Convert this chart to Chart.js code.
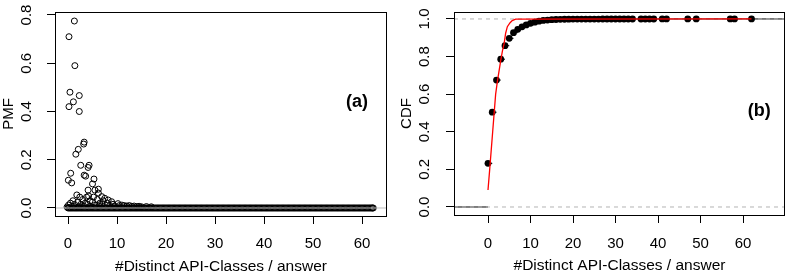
<!DOCTYPE html>
<html><head><meta charset="utf-8">
<script src="https://cdn.jsdelivr.net/npm/chart.js@4"></script>
<style>
html,body{margin:0;padding:0;background:#fff;}
#wrap{position:relative;width:793px;height:279px;overflow:hidden;}
#pa{position:absolute;left:0;top:0;}
#pb{position:absolute;left:395px;top:0;}
</style></head><body>
<div id="wrap"><canvas id="pa" width="395" height="279"></canvas><canvas id="pb" width="398" height="279"></canvas></div>
<script>
// ---------- data ----------
const xTicks = [0, 10, 20, 30, 40, 50, 60];
const pmfYTicks = [0.0, 0.2, 0.4, 0.6, 0.8];
const cdfYTicks = [0.0, 0.2, 0.4, 0.6, 0.8, 1.0];

// PMF points (jittered x, value)
const pmfX = [0.2,1.3,1.4,0.4,2.3,1.1,0.2,2.3,3.3,3.2,2.1,1.6,2.6,4.3,4.1,0.55,3.3,3.6,0.07,0.75,5.3,5.0,4.1,6.2,
  0.1,-0.2,0.5,1.0,1.3,0.8,1.8,2.4,2.0,2.6,2.2,3.0,3.5,3.8,3.2,4.2,4.5,4.0,4.7,5.5,5.2,5.0,5.6,6.2,6.0,6.5,6.3,
  6.9,7.2,7.0,7.5,8.2,8.0,8.5,8.9,9.2,9.5,10.2,10.5,11,11.5,12,12.5,13,13.5,14,14.5,15,16,17];
const pmfY = [0.71,0.775,0.59,0.48,0.466,0.44,0.42,0.40,0.273,0.265,0.243,0.223,0.177,0.177,0.168,0.144,0.136,0.132,0.115,0.104,0.12,0.10,0.074,0.078,
  0.012,0.004,0.02,0.03,0.015,0.006,0.054,0.045,0.025,0.015,0.006,0.035,0.02,0.045,0.008,0.05,0.03,0.015,0.006,0.074,0.045,0.025,0.012,0.062,0.035,0.02,0.008,
  0.047,0.03,0.015,0.04,0.033,0.02,0.01,0.026,0.015,0.008,0.018,0.01,0.012,0.01,0.008,0.01,0.007,0.008,0.006,0.007,0.005,0.006,0.005];
// PMF points that are (practically) zero, one row per jitter group
const pmfZeroX = [0,1,2,3,4,5,6,7,8,9,10,11,12,13,14,15,16,17,18,19,20,21,22,23,24,25,26,27,28,29,30,31,32,33,34,35,36,37,38,39,40,41,42,43,44,45,46,47,48,49,50,51,52,53,54,55,56,57,58,59,60,61,62];
const pmfZeroX2 = [0.5,1.5,2.5,3.5,4.5,5.5,6.5,7.5,8.5,9.5,10.5,11.5,12.5,13.5,14.5,15.5,16.5,17.5,18.5,19.5,20.5,21.5,22.5,23.5,24.5,25.5,26.5,27.5,28.5,29.5,30.5,31.5,32.5,33.5,34.5,35.5,36.5,37.5,38.5,39.5,40.5,41.5,42.5,43.5,44.5,45.5,46.5,47.5,48.5,49.5,50.5,51.5,52.5,53.5,54.5,55.5,56.5,57.5,58.5,59.5,60.5,61.5,62.3];
const pmfZeroX3 = [0.25,1.25,2.25,3.25,4.25,5.25,6.25,7.25,8.25,9.25,10.25,11.25,12.25,13.25,14.25,15.25,16.25,17.25,18.25,19.25,20.25,21.25,22.25,23.25,24.25,25.25,26.25,27.25,28.25,29.25,30.25,31.25,32.25,33.25,34.25,35.25,36.25,37.25,38.25,39.25,40.25,41.25,42.25,43.25,44.25,45.25,46.25,47.25,48.25,49.25,50.25,51.25,52.25,53.25,54.25,55.25,56.25,57.25,58.25,59.25,60.25,61.25,62.15];
const pmfZeroX4 = [0.75,1.75,2.75,3.75,4.75,5.75,6.75,7.75,8.75,9.75,10.75,11.75,12.75,13.75,14.75,15.75,16.75,17.75,18.75,19.75,20.75,21.75,22.75,23.75,24.75,25.75,26.75,27.75,28.75,29.75,30.75,31.75,32.75,33.75,34.75,35.75,36.75,37.75,38.75,39.75,40.75,41.75,42.75,43.75,44.75,45.75,46.75,47.75,48.75,49.75,50.75,51.75,52.75,53.75,54.75,55.75,56.75,57.75,58.75,59.75,60.75,61.75];
const pmfZeroValue = 0;

// empirical CDF
const cdfX = [0,1,2,3,4,5,6,7,8,9,10,11,12,13,14,15,16,17,18,19,20,21,22,23,24,25,26,27,28,29,30,31,32,33,34,36,37,38,39,41,42,47,49,57,58,62];
const cdfY = [0.232,0.504,0.675,0.786,0.858,0.897,0.927,0.945,0.958,0.968,0.977,0.983,0.988,0.992,0.994,0.996,0.997,0.998,0.9985,0.999,
  0.9992,0.9993,0.9994,0.9995,0.9995,0.9996,0.9996,0.9997,0.9997,0.9997,0.9998,0.9998,0.9998,0.9998,0.9999,0.9999,0.9999,0.9999,0.9999,
  0.99993,0.99995,0.99996,0.99997,0.99998,0.99999,1.0];
// fitted CDF (red)
const fitX = [0,0.4,1.1,1.8,2.2,3.0,3.4,3.8,4.15,4.55,5.2,5.7,6.5,62];
const fitY = [0.09,0.2,0.4,0.6,0.667,0.78,0.83,0.87,0.924,0.959,0.98,0.991,0.999,1.0];

// ---------- layout / style ----------
const FONT = "'Liberation Sans', Arial, sans-serif";
const pmfXLim = [-2.653, 65.1], pmfYLim = [-0.0332, 0.8124];
const cdfXLim = [-8.0, 69.88], cdfYLim = [-0.0426, 1.037];

const boxPlugin = {
  id: 'box',
  afterDraw(chart, args, opts) {
    const {ctx, chartArea: a} = chart;
    ctx.save();
    ctx.strokeStyle = '#000'; ctx.lineWidth = 1;
    ctx.strokeRect(a.left + 0.5, a.top + 0.5, a.right - a.left - 1, a.bottom - a.top);
    if (opts.text) {
      ctx.fillStyle = '#000';
      ctx.font = 'bold 18px ' + FONT;
      ctx.textAlign = 'center'; ctx.textBaseline = 'middle';
      const x = chart.scales.x.getPixelForValue(opts.at[0]);
      const y = chart.scales.y.getPixelForValue(opts.at[1]);
      ctx.fillText(opts.text, x, y);
    }
    ctx.restore();
  }
};

function axes(xLim, yLim, yTicks, yTitle, o) {
  return {
    x: {
      type: 'linear', min: xLim[0], max: xLim[1],
      afterBuildTicks: s => { s.ticks = xTicks.map(v => ({value: v})); },
      afterFit: s => { s.height = o.xh; s.paddingLeft = 0; s.paddingRight = 0; },
      grid: {drawOnChartArea: false, drawTicks: true, tickLength: 8, color: '#000', lineWidth: 1},
      border: {display: false},
      ticks: {color: '#000', font: {family: FONT, size: 15}, padding: o.xpad, maxRotation: 0, minRotation: 0,
              callback: v => String(v)},
      title: {display: true, text: '#Distinct API-Classes / answer', color: '#000',
              font: {family: FONT, size: 15.5}, padding: {top: 0, bottom: o.xtpad}}
    },
    y: {
      type: 'linear', min: yLim[0], max: yLim[1],
      afterBuildTicks: s => { s.ticks = yTicks.map(v => ({value: v})); },
      afterFit: s => { s.width = o.yw; s.paddingTop = 0; s.paddingBottom = 0; },
      grid: {drawOnChartArea: false, drawTicks: true, tickLength: 8, color: '#000', lineWidth: 1},
      border: {display: false},
      ticks: {color: '#000', font: {family: FONT, size: 15}, padding: o.ypad, minRotation: 90, maxRotation: 90,
              crossAlign: 'center', callback: v => v.toFixed(1)},
      title: {display: true, text: yTitle, color: '#000', font: {family: FONT, size: 15}, padding: {top: o.ytpad, bottom: 0}}
    }
  };
}

const commonOpts = {
  responsive: false, animation: false, devicePixelRatio: 1,
  plugins: {legend: {display: false}, tooltip: {enabled: false}},
};

// ---------- PMF chart ----------
const pmfPts = pmfX.map((x, i) => ({x, y: pmfY[i]}));
const zeroPts = [pmfZeroX, pmfZeroX2, pmfZeroX3, pmfZeroX4].flat().map(x => ({x, y: pmfZeroValue}));
new Chart(document.getElementById('pa'), {
  type: 'scatter',
  data: {datasets: [
    {data: [{x: pmfXLim[0], y: 0}, {x: pmfXLim[1], y: 0}], showLine: true, borderColor: '#BEBEBE', borderWidth: 1, pointRadius: 0},
    {data: pmfPts, pointRadius: 3, borderWidth: 1, borderColor: '#000', backgroundColor: 'rgba(0,0,0,0)'},
    {data: zeroPts, pointRadius: 3, borderWidth: 1, borderColor: '#000', backgroundColor: 'rgba(0,0,0,0)'}
  ]},
  options: Object.assign({}, commonOpts, {
    layout: {padding: {left: 0, top: 12, right: 8, bottom: 0}},
    scales: axes(pmfXLim, pmfYLim, pmfYTicks, 'PMF', {xh: 63, yw: 55, xpad: 10.7, xtpad: 2.5, ypad: 9.4, ytpad: 0}),
    plugins: Object.assign({}, commonOpts.plugins, {box: {text: '(a)', at: [59.0, 0.44]}})
  }),
  plugins: [boxPlugin]
});

// ---------- CDF chart ----------
const cdfPts = cdfX.map((x, i) => ({x, y: cdfY[i]}));
const stepPts = [{x: cdfXLim[0], y: 0}, {x: cdfX[0], y: 0}, {x: cdfX[0], y: null}];
cdfX.forEach((x, i) => {
  const nx = i < cdfX.length - 1 ? cdfX[i + 1] : cdfXLim[1];
  stepPts.push({x, y: cdfY[i]}, {x: nx, y: cdfY[i]}, {x: nx, y: null});
});
const fitPts = fitX.map((x, i) => ({x, y: fitY[i]}));
const ref = v => [{x: cdfXLim[0], y: v}, {x: cdfXLim[1], y: v}];
new Chart(document.getElementById('pb'), {
  type: 'scatter',
  data: {datasets: [
    {data: fitPts, showLine: true, borderColor: '#FF0000', borderWidth: 1.3, pointRadius: 0, tension: 0},
    {data: cdfPts, pointRadius: 3.4, borderWidth: 0, backgroundColor: '#000'},
    {data: ref(0), showLine: true, borderColor: '#B3B3B3', borderWidth: 1, borderDash: [4, 4], pointRadius: 0},
    {data: ref(1), showLine: true, borderColor: '#B3B3B3', borderWidth: 1, borderDash: [4, 4], pointRadius: 0},
    {data: stepPts, showLine: true, spanGaps: false, borderColor: '#000', borderWidth: 1, pointRadius: 0}
  ]},
  options: Object.assign({}, commonOpts, {
    layout: {padding: {left: 0, top: 12, right: 8, bottom: 0}},
    scales: axes(cdfXLim, cdfYLim, cdfYTicks, 'CDF', {xh: 64, yw: 59, xpad: 11.7, xtpad: 3.7, ypad: 10.4, ytpad: 2.7}),
    plugins: Object.assign({}, commonOpts.plugins, {box: {text: '(b)', at: [63.8, 0.51]}})
  }),
  plugins: [boxPlugin]
});
</script>
</body></html>
